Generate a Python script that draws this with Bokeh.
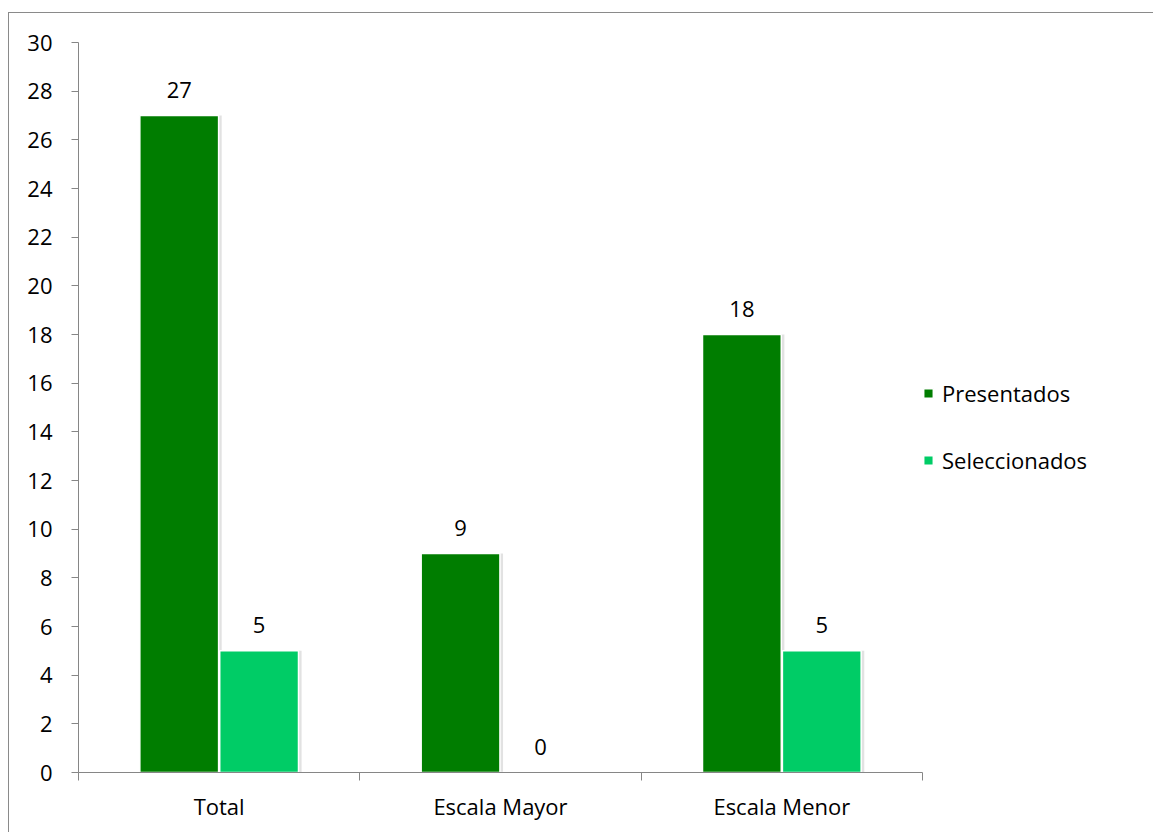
from bokeh.plotting import figure
from bokeh.models import (ColumnDataSource, FixedTicker, Range1d, LabelSet, Legend, LegendItem)
from bokeh.core.properties import value
from bokeh.transform import dodge
from bokeh.embed import file_html
from bokeh.resources import INLINE

categories = ["Total", "Escala Mayor", "Escala Menor"]
presentados = [27, 9, 18]
seleccionados = [5, 0, 5]
y_ticks = list(range(0, 31, 2))

FONT = "Open Sans"
FS = "22px"
GREEN = "#007D00"
LIGHT = "#00CC66"

xc = [i + 0.5 for i in range(len(categories))]
src = ColumnDataSource(dict(xc=xc, cat=categories, pres=presentados, sel=seleccionados,
                            pres_t=[str(v) for v in presentados],
                            sel_t=[str(v) for v in seleccionados]))

p = figure(frame_width=844, frame_height=730, output_backend="svg", toolbar_location=None,
           x_range=Range1d(0, len(categories)), y_range=Range1d(0, 30),
           min_border_left=69, min_border_top=29, min_border_bottom=61, min_border_right=230)
p.styles = {"border-top": "1px solid #8a8a8a", "border-left": "1px solid #8a8a8a",
            "border-right": "1px solid #8a8a8a", "margin-left": "8px", "margin-top": "12px"}
p.xgrid.grid_line_color = None
p.ygrid.grid_line_color = None
p.outline_line_color = None
p.background_fill_color = "white"
p.border_fill_color = "white"

W = 0.28
OFF = 0.142
SH = 0.011
# soft shadows
for col, off in (("pres", -OFF), ("sel", OFF)):
    p.vbar(x=dodge("xc", off + SH, range=p.x_range), top=col, width=W, source=src,
           fill_color="#bfbfbf", fill_alpha=0.45, line_color=None)

r1 = p.vbar(x=dodge("xc", -OFF, range=p.x_range), top="pres", width=W, source=src,
            fill_color=GREEN, line_color="white", line_width=1.5)
r2 = p.vbar(x=dodge("xc", OFF, range=p.x_range), top="sel", width=W, source=src,
            fill_color=LIGHT, line_color="white", line_width=1.5)

for col, off in (("pres", -OFF), ("sel", OFF)):
    lbl = LabelSet(x=dodge("xc", off, range=p.x_range), y=col, text=col + "_t", source=src,
                   text_align="center", text_baseline="bottom", y_offset=18,
                   text_font=value(FONT), text_font_size=FS, text_color="black")
    p.add_layout(lbl)

# y axis
p.yaxis.ticker = FixedTicker(ticks=y_ticks, minor_ticks=[])
p.yaxis.axis_line_color = "#868686"
p.yaxis.major_tick_line_color = "#868686"
p.yaxis.major_tick_in = 0
p.yaxis.major_tick_out = 7
p.yaxis.minor_tick_line_color = None
p.yaxis.major_label_text_font = FONT
p.yaxis.major_label_text_font_size = FS
p.yaxis.major_label_text_color = "black"
p.yaxis.major_label_standoff = 19

# x axis: labels at category centers, ticks at boundaries
p.xaxis.ticker = FixedTicker(ticks=xc, minor_ticks=list(range(len(categories) + 1)))
p.xaxis.major_label_overrides = {x: c for x, c in zip(xc, categories)}
p.xaxis.axis_line_color = "#868686"
p.xaxis.major_tick_in = 0
p.xaxis.major_tick_out = 0
p.xaxis.minor_tick_line_color = "#868686"
p.xaxis.minor_tick_in = 0
p.xaxis.minor_tick_out = 8
p.xaxis.major_label_text_font = FONT
p.xaxis.major_label_text_font_size = FS
p.xaxis.major_label_text_color = "black"
p.xaxis.major_label_standoff = 10

legend = Legend(items=[LegendItem(label="Presentados", renderers=[r1]),
                       LegendItem(label="Seleccionados", renderers=[r2])],
                location=(0, 297), orientation="vertical")
legend.border_line_color = None
legend.background_fill_alpha = 0
legend.label_text_font = FONT
legend.label_text_font_size = FS
legend.label_text_color = "black"
legend.glyph_width = 12
legend.glyph_height = 12
legend.label_height = 20
legend.spacing = 37
legend.margin = 0
legend.padding = 0
legend.label_standoff = 8
p.add_layout(legend, "right")

open("out.html", "w").write(file_html(p, INLINE))
